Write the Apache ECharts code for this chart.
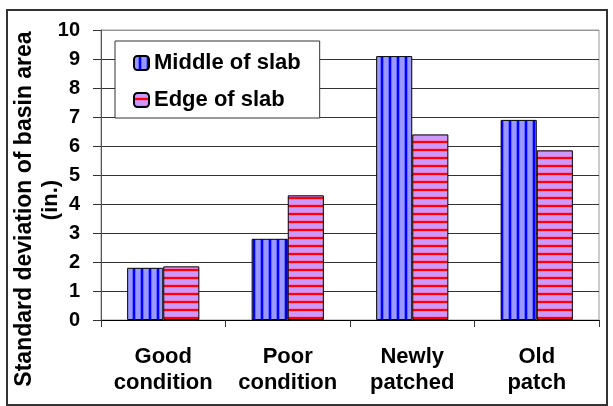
<!DOCTYPE html>
<html>
<head>
<meta charset="utf-8">
<script src="https://cdn.jsdelivr.net/npm/echarts@6/dist/echarts.min.js"></script>
<style>
html,body{margin:0;padding:0;background:#fff;}
#chart{width:613px;height:406px;}
</style>
</head>
<body>
<div id="chart"></div>
<script>
// Data
var categories = ['Good\ncondition', 'Poor\ncondition', 'Newly\npatched', 'Old\npatch'];
var middleOfSlab = [1.8, 2.8, 9.1, 6.9];
var edgeOfSlab = [1.85, 4.3, 6.4, 5.85];
var seriesNames = ['Middle of slab', 'Edge of slab'];
var yTitleLine1 = 'Standard deviation of basin area';
var yTitleLine2 = '(in.)';

var FONT = '"Liberation Sans", Arial, sans-serif';

function makePattern(vertical, bg, line, soft) {
  var c = document.createElement('canvas');
  c.width = 8; c.height = 8;
  var ctx = c.getContext('2d');
  ctx.fillStyle = bg; ctx.fillRect(0, 0, 8, 8);
  if (vertical) {
    ctx.fillStyle = soft; ctx.fillRect(4, 0, 1, 8); ctx.fillRect(7, 0, 1, 8);
    ctx.fillStyle = line; ctx.fillRect(5, 0, 2, 8);
  } else {
    ctx.fillStyle = soft; ctx.fillRect(0, 4, 8, 1); ctx.fillRect(0, 7, 8, 1);
    ctx.fillStyle = line; ctx.fillRect(0, 5, 8, 2);
  }
  return { image: c, repeat: 'repeat' };
}
var bluePattern = makePattern(true, '#9999FF', '#0000FF', '#6A6AFF');
var redPattern = makePattern(false, '#CC99FF', '#FF0000', '#E27AD6');

var chart = echarts.init(document.getElementById('chart'), null, {renderer: 'canvas'});
var splitColors = ['#333','#333','#333','#333','#333','#333','#333','#333','#333','#333','#999'];

chart.setOption({
  animation: false,
  backgroundColor: '#fff',
  grid: { left: 101, top: 30, right: 14, bottom: 86, show: true, borderColor: '#999', borderWidth: 1, backgroundColor: 'transparent' },
  legend: {
    orient: 'vertical', left: 115, top: 41,
    itemWidth: 15, itemHeight: 14, itemGap: 15,
    padding: [11, 19, 7, 18],
    backgroundColor: '#fff', borderColor: '#333', borderWidth: 1,
    textStyle: { fontFamily: FONT, fontWeight: 'bold', fontSize: 22, color: '#000' },
    data: seriesNames
  },
  xAxis: {
    type: 'category', data: categories,
    axisLine: { lineStyle: { color: '#000', width: 1 } },
    axisTick: { show: true, length: 7, lineStyle: { color: '#333' } },
    axisLabel: { margin: 24, fontFamily: FONT, fontWeight: 'bold', fontSize: 22, lineHeight: 26, color: '#000', interval: 0 }
  },
  yAxis: {
    type: 'value', min: 0, max: 10, interval: 1,
    axisLine: { show: true, lineStyle: { color: '#555', width: 1 } },
    axisTick: { show: true, length: 8, lineStyle: { color: '#333' } },
    axisLabel: { margin: 21, fontFamily: FONT, fontWeight: 'bold', fontSize: 20, color: '#000' },
    splitLine: { show: true, lineStyle: { color: splitColors, width: 1 } }
  },
  series: [
    { name: seriesNames[0], type: 'bar', data: middleOfSlab, barGap: '0%', barCategoryGap: '42%',
      itemStyle: { color: bluePattern, borderColor: '#000', borderWidth: 1 } },
    { name: seriesNames[1], type: 'bar', data: edgeOfSlab, barGap: '0%', barCategoryGap: '42%',
      itemStyle: { color: redPattern, borderColor: '#000', borderWidth: 1 } }
  ],
  graphic: [
    { type: 'rect', shape: { x: 7, y: 10, width: 600, height: 395 }, silent: true, z: -1,
      style: { fill: null, stroke: '#333', lineWidth: 2 } },
    { type: 'text', x: 25, y: 209, rotation: Math.PI / 2,
      style: { text: yTitleLine1, font: 'bold 23px ' + FONT, fill: '#000', textAlign: 'center', textVerticalAlign: 'middle' } },
    { type: 'text', x: 51, y: 200, rotation: Math.PI / 2,
      style: { text: yTitleLine2, font: 'bold 22px ' + FONT, fill: '#000', textAlign: 'center', textVerticalAlign: 'middle' } }
  ]
});
</script>
</body>
</html>
